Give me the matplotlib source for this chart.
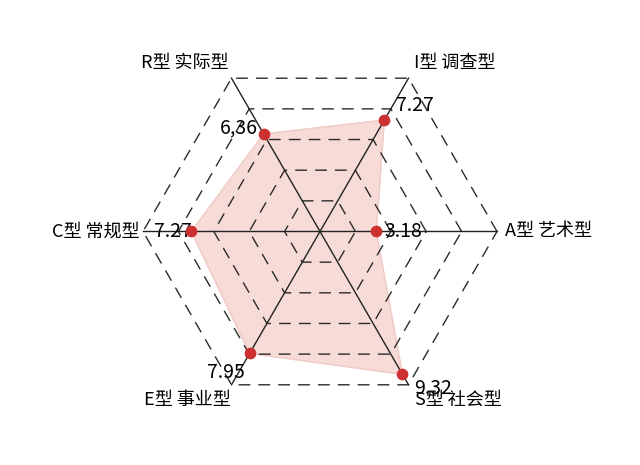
import numpy as np
import matplotlib
matplotlib.use('Agg')
import matplotlib.pyplot as plt

plt.rcParams['font.family'] = ['Noto Sans CJK SC', 'DejaVu Sans']

# data
labels = ['A型 艺术型', 'I型 调查型', 'R型 实际型', 'C型 常规型', 'E型 事业型', 'S型 社会型']
values = [3.18, 7.27, 6.36, 7.27, 7.95, 9.32]
value_text = ['3.18', '7.27', '6,36', '7.27', '7.95', '9.32']
rings = [2, 4, 6, 8, 10]

angles = np.deg2rad(np.arange(6) * 60)
cos_a, sin_a = np.cos(angles), np.sin(angles)

fig = plt.figure(figsize=(6.4, 4.65), dpi=100)
ax = fig.add_axes([0, 0, 1, 1])
scale = 17.7
ax.set_xlim(-320 / scale, 320 / scale)
ax.set_ylim(-233.5 / scale, 231.5 / scale)
ax.set_aspect('equal')
ax.axis('off')

# dashed hexagon rings
for r in rings:
    xs = np.append(r * cos_a, r * cos_a[0])
    ys = np.append(r * sin_a, r * sin_a[0])
    ax.plot(xs, ys, color='#2b2b2b', lw=1, ls=(0, (8.5, 5.8)), zorder=2)

# solid axis lines through centre
for i in range(3):
    ax.plot([10 * cos_a[i], 10 * cos_a[i + 3]], [10 * sin_a[i], 10 * sin_a[i + 3]],
            color='#222222', lw=1, zorder=3)

# data polygon
v = np.array(values)
px, py = v * cos_a, v * sin_a
ax.fill(px, py, color='#f6dbd7', zorder=1)
ax.plot(np.append(px, px[0]), np.append(py, py[0]), color='#f1cbc6', lw=1, zorder=1.2)
ax.scatter(px, py, s=55, color='#cc3030', zorder=4)

# category labels
fl = 13
ax.text(10.45, 0, labels[0], ha='left', va='center', fontsize=fl)
ax.text(7.63, 9.52, labels[1], ha='center', va='center', fontsize=fl)
ax.text(-7.63, 9.52, labels[2], ha='center', va='center', fontsize=fl)
ax.text(-10.17, 0, labels[3], ha='right', va='center', fontsize=fl)
ax.text(-7.51, -9.52, labels[4], ha='center', va='center', fontsize=fl)
ax.text(7.8, -9.52, labels[5], ha='center', va='center', fontsize=fl)

# value labels
fs = 14
ax.text(px[0] + 0.45, py[0], value_text[0], ha='left', va='center', fontsize=fs)
ax.text(px[1] + 1.75, py[1] + 0.8, value_text[1], ha='center', va='center', fontsize=fs)
ax.text(px[2] - 1.4, py[2] + 0.35, value_text[2], ha='center', va='center', fontsize=fs)
ax.text(px[3] + 0.05, py[3], value_text[3], ha='right', va='center', fontsize=fs)
ax.text(px[4] - 1.35, py[4] - 1.07, value_text[4], ha='center', va='center', fontsize=fs)
ax.text(px[5] + 1.7, py[5] - 0.8, value_text[5], ha='center', va='center', fontsize=fs)

fig.savefig('out.png', dpi=100, facecolor='white')
